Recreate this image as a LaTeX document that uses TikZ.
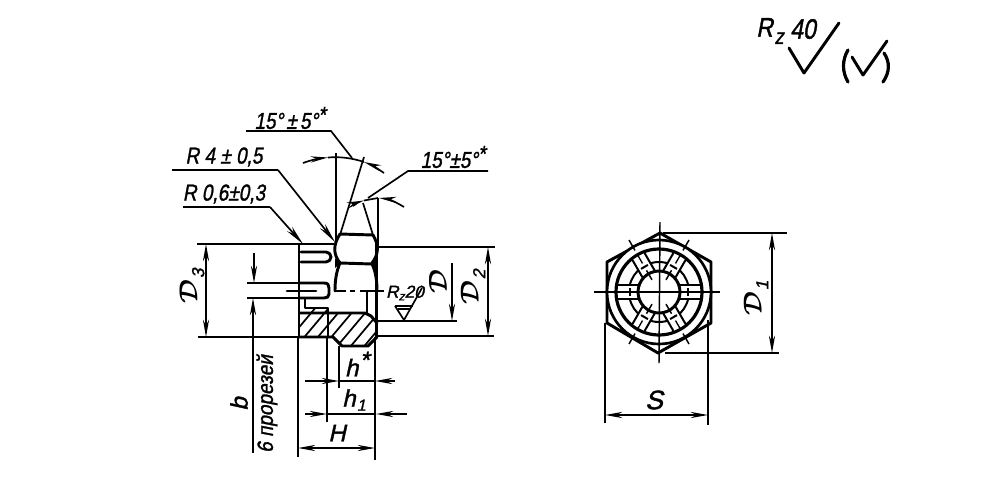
\documentclass[tikz,border=0pt]{standalone}
\usepackage{fontspec}
\setmainfont{Liberation Sans}
\newfontfamily\dr[FakeBold=1.4,FakeSlant=0.22]{Liberation Sans}
\usetikzlibrary{arrows.meta}
\newcommand{\tx}[1]{\scalebox{0.95}[1.15]{#1}}
\newcommand{\DD}[1]{\scalebox{1.35}{\boldmath$\mathcal{D}$}\kern1pt\raisebox{-5pt}{\fontsize{13}{13}\selectfont #1}}
\tikzset{
  thin line/.style={line width=1.25pt,black},
  thick line/.style={line width=2.2pt,black,line join=round,line cap=round},
  tip/.style={-{Stealth[length=13pt,width=4.6pt]}},
  dim/.style={thin line,{Stealth[length=13pt,width=4.6pt]}-{Stealth[length=13pt,width=4.6pt]}},
  lead/.style={thin line,-{Stealth[length=15pt,width=5pt]}},
  lab/.style={font=\dr\fontsize{15}{15}\selectfont,inner sep=0pt},
  hatchline/.style={line width=1.3pt,black}
}
\begin{document}
\begin{tikzpicture}[x=0.75pt,y=-0.75pt]
\useasboundingbox[fill=white] (0,0) rectangle (1000,500);
% ---- roughness top right
\node[lab] (rz) at (770,31) {\scalebox{1.15}[1.35]{R\kern1pt\raisebox{-4pt}{\fontsize{12}{12}\selectfont z}}};
\node[lab] (rz4) at (803,29) {\scalebox{1.15}[1.4]{40}};
\draw[line width=2.2pt,line cap=round,line join=round] (789,48) -- (804,73) -- (839,23);
\draw[line width=2.2pt,line cap=round,line join=round] (852,57) -- (863,75) -- (887,41);
\draw[line width=2.4pt,line cap=round] (848,50) .. controls (842,60) and (842,72) .. (848,82);
\draw[line width=2.4pt,line cap=round] (884,53) .. controls (890,62) and (890,72) .. (883,82);
% ---- left view: extension lines
\draw[thin line] (197,244) -- (335,244);
\draw[thin line] (378,247) -- (495,247);
\draw[thin line] (198,337) -- (300,337);
\draw[thin line] (377,336) -- (494,336);
\draw[thin line] (377,321) -- (457,321);
% ---- leaders and angle marks
\draw[thin line] (246,131) -- (331,131) -- (352,158);
\node[lab] (a1) at (290,118) {\tx{15°\,±\,5°\raisebox{4pt}{*}}};
\draw[thin line] (172,170) -- (278,170);
\draw[lead] (278,170) -- (335,242);
\node[lab] (r4) at (224,157) {\tx{R 4 ± 0,5}};
\draw[thin line] (183,207) -- (270,207);
\draw[lead] (270,207) -- (303,244);
\node[lab] (r6) at (224,194) {\tx{R 0,6±0,3}};
\draw[thin line] (488,171) -- (408,171) -- (368,198);
\node[lab] (a2) at (453,157) {\tx{15°±5°\raisebox{4pt}{*}}};
\draw[thin line] (336,153) -- (336,242);
\draw[thin line] (364,157) -- (340,235);
\draw[thin line] (363,203) -- (373,235);
\draw[thin line] (378,198) -- (378,246);
\draw[thin line,tip] (303,163) .. controls (311,160) and (319,158.5) .. (328,157.5);
\draw[thin line] (328,157.5) .. controls (340,156.5) and (352,158) .. (364,162);
\draw[thin line,tip] (384,173) .. controls (378,169) and (372,165) .. (364,162);
\draw[thin line,tip] (353,206) .. controls (356,204) and (359,202) .. (364,200.5);
\draw[thin line] (364,200.5) -- (378,198);
\draw[thin line,tip] (404,207) .. controls (396,202) and (388,199) .. (379,198);
% ---- nut outline
\draw[thick line] (340,234) -- (373,235);
\draw[thick line] (340,234) .. controls (333,245) and (333,254) .. (340,263);
\draw[thick line] (373,235) .. controls (379,245) and (379,254) .. (372,263);
\draw[thick line] (340,263) -- (372,264);
\draw[thick line] (340,263) .. controls (336,272) and (335,282) .. (335,291);
\draw[thick line] (372,264) .. controls (376,272) and (377,282) .. (377,291);
\fill (335,258) -- (340,263) -- (335,268) -- cycle;
\fill (377,258) -- (372,264) -- (377,270) -- cycle;
\draw[thick line] (376.5,243) -- (376.5,337);
\draw[thick line] (299,244) -- (299,337);
\draw[thick line] (301,252) -- (326,252) arc (-90:90:5) -- (301,262);
\draw[thin line] (247,283) -- (299,283);
\draw[thin line] (247,298) -- (299,298);
\draw[thick line] (299,283) -- (324,283) .. controls (328,283) and (329,285) .. (329,288) -- (329,294) .. controls (329,297) and (327,298) .. (324,298) -- (299,298);
\draw[thick line] (367,292) -- (367,313);
% section
\begin{scope}
\clip (299,300) -- (305,300) -- (305,308) -- (328,308) -- (328,313) -- (365,313) -- (371,316) -- (377,323) -- (377,337) -- (368,346) -- (342,346) -- (333,337) -- (299,337) -- cycle;
\foreach \i in {0,...,8}{
  \draw[hatchline] ({280+\i*13.5},350) -- ({280+\i*13.5+42},300);
}
\end{scope}
\draw[thick line] (305,299) -- (305,308) -- (328,308) -- (328,337);
\draw[thick line] (300,313) -- (365,313) -- (371,316) -- (377,323);
\draw[thick line] (299,337) -- (333,337) -- (342,346) -- (368,346) -- (377,337);
% ---- left dimensions
\draw[dim] (206,244) -- (206,337);
\node[lab,rotate=90] (d3) at (192,286) {\DD{3}};
\draw[dim] (488,247) -- (488,336);
\node[lab,rotate=90] (d2) at (473,287) {\DD{2}};
\draw[thin line,tip] (452,263) -- (452,321);
\node[lab,rotate=90] (d) at (438,282) {\scalebox{1.35}{\boldmath$\mathcal{D}$}};
\draw[thick line] (287,291) -- (316,291);
\draw[thin line] (334,291) -- (346,291);
\draw[thin line] (350,291) -- (355,291);
\draw[thin line] (360,291) -- (384,291);
\draw[thin line,tip] (254,253) -- (254,283);
\draw[thin line,tip] (253,453) -- (253,298);
\node[lab,rotate=90,font=\dr\fontsize{18}{18}\selectfont] (b) at (239,404) {b};
\node[lab,rotate=90] (pr) at (267,404) {\scalebox{0.95}[1.1]{6 прорезей}};
% ---- roughness in the section
\node[lab,font=\dr\fontsize{13}{13}\selectfont] (rz2) at (405,293) {R\raisebox{-2pt}{\fontsize{9}{9}\selectfont z}20};
\draw[thin line] (395,306) -- (413,306);
\draw[thin line] (398,309) -- (410,309);
\draw[thin line] (395,306) -- (404,320) -- (422,288);
% ---- lower dimensions
\draw[thin line] (298,337) -- (298,457);
\draw[thin line] (375,337) -- (375,460);
\draw[thin line] (327,337) -- (327,422);
\draw[thin line] (339,346) -- (339,388);
\draw[thin line,tip] (305,381) -- (339,381);
\draw[thin line,tip] (395,381) -- (375,381);
\draw[thin line] (339,381) -- (375,381);
\node[lab,font=\dr\fontsize{18}{18}\selectfont] (hs) at (357,364) {h\kern1pt\raisebox{6pt}{*}};
\draw[thin line,tip] (305,414) -- (327,414);
\draw[thin line,tip] (407,414) -- (376,414);
\draw[thin line] (327,414) -- (376,414);
\node[lab,font=\dr\fontsize{18}{18}\selectfont] (h1) at (354,400) {h\kern1pt\raisebox{-3pt}{\fontsize{12}{12}\selectfont 1}};
\draw[dim] (298,448) -- (375,448);
\node[lab,font=\dr\fontsize{18}{18}\selectfont] (hh) at (337,433) {H};
% ---- right view
\draw[thick line] (660,233) -- (711,262) -- (711,323) -- (658,353) -- (607,323) -- (607,262) -- cycle;
\draw[line width=2pt,fill=white] (659,292) circle (52);
\draw[line width=2.4pt] (659,292) circle (43);
\draw[line width=1.5pt] (659,292) circle (30);
\foreach \a in {0,60,120,180,240,300}{
  \begin{scope}[rotate around={\a:(659,292)}]
    \fill[white] (680,285) rectangle (700,299);
    \draw[line width=1.5pt] (679,285) -- (701,285);
    \draw[line width=1.5pt] (679,299) -- (701,299);
    \draw[line width=1.5pt] (688,288) -- (688,296);
    \draw[line width=1pt] (692,292) -- (701,292);
  \end{scope}
}
\draw[line width=2.2pt] (659,292) circle (21);
\draw[line width=1.1pt] (594,292) -- (720,292);
\draw[line width=1.1pt] (660,222) -- (659,363);
\foreach \a in {60,120,240,300}{
  \draw[line width=1.1pt] ([shift={(\a:48)}]659,292) -- ([shift={(\a:60)}]659,292);
  \draw[line width=1.1pt] ([shift={(\a:14)}]659,292) -- ([shift={(\a:25)}]659,292);
}
% dimensions
\draw[thin line] (663,233) -- (787,233);
\draw[thin line] (665,353) -- (779,353);
\draw[dim] (772,233) -- (772,353);
\node[lab,rotate=90] (d1) at (756,298) {\DD{1}};
\draw[thin line] (605,323) -- (605,423);
\draw[thin line] (708,320) -- (708,425);
\draw[dim] (605,415) -- (708,415);
\node[lab,font=\dr\fontsize{20}{20}\selectfont] (s) at (654,400) {S};
\end{tikzpicture}
\end{document}
